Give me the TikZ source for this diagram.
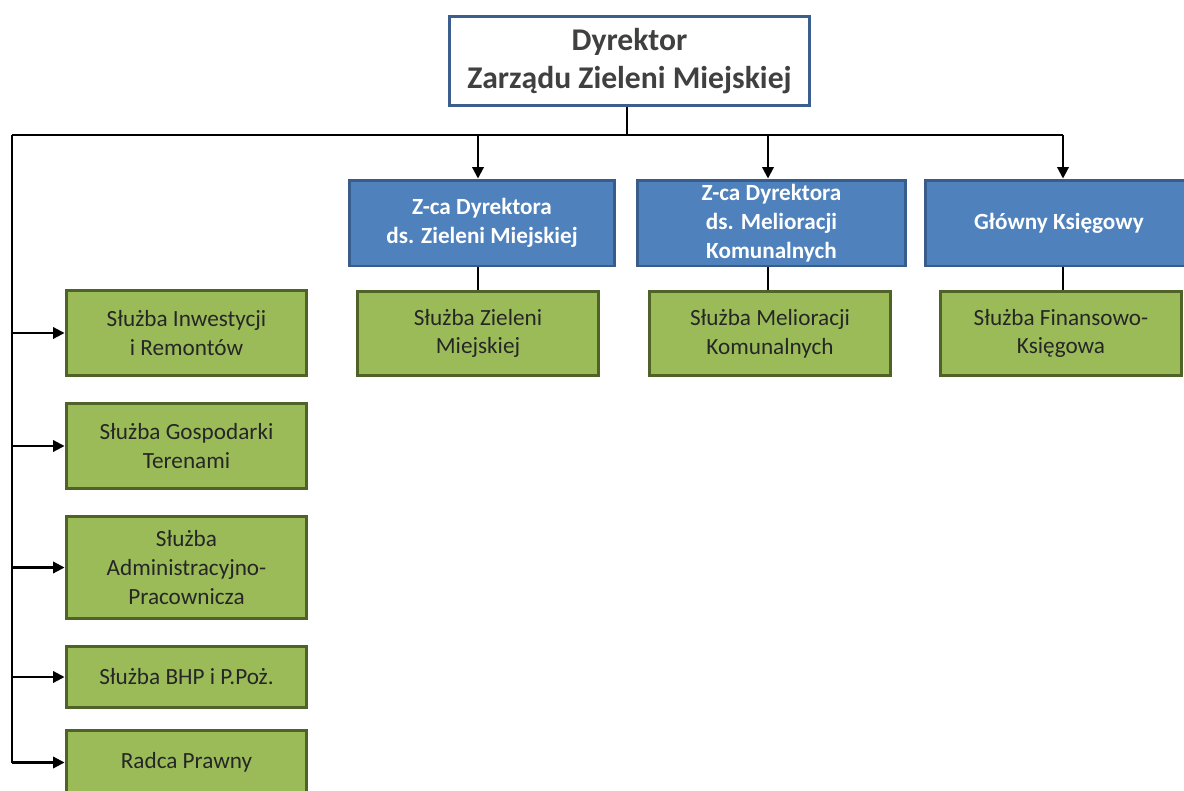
\documentclass[tikz,border=0pt]{standalone}
\usepackage{fontspec}
\setmainfont{Carlito}
\usetikzlibrary{arrows.meta}

\definecolor{headblue}{HTML}{3B5E8C}
\definecolor{zcafill}{HTML}{4F81BD}
\definecolor{zcaedge}{HTML}{385D8A}
\definecolor{slfill}{HTML}{9BBB59}
\definecolor{sledge}{HTML}{4F6228}
\definecolor{headtext}{HTML}{404040}

\tikzset{
  headbox/.style={draw=headblue, line width=1.7pt, fill=white, text=headtext,
    font=\bfseries\fontsize{18}{21.5}\selectfont, align=center,
    minimum width=7.2cm, minimum height=1.8cm, inner sep=0pt},
  zcabox/.style={draw=zcaedge, line width=1.7pt, fill=zcafill, text=white,
    font=\bfseries\fontsize{13.2}{16.4}\selectfont, align=center,
    minimum height=1.72cm, inner sep=0pt},
  slbox/.style={draw=sledge, line width=1.7pt, fill=slfill, text=black!85,
    font=\fontsize{13.2}{16.4}\selectfont, align=center,
    minimum width=4.82cm, inner sep=0pt},
  conn/.style={line width=1.2pt, black},
  arr/.style={conn, -{Triangle[length=6.5pt,width=6.5pt]}}
}

\begin{document}
\begin{tikzpicture}[x=0.02cm,y=-0.02cm]
\useasboundingbox (0,0) rectangle (1184,791);

% top
\node[headbox] (dyr) at (629.5,61) {Dyrektor\\Zarządu Zieleni Miejskiej};

% deputies
\node[zcabox, minimum width=5.32cm] (zca1) at (482,223) {Z-ca Dyrektora\\ds. Zieleni Miejskiej};
\node[zcabox, minimum width=5.38cm] (zca2) at (771.5,223) {Z-ca Dyrektora\\ds. Melioracji\\Komunalnych};
\node[zcabox, minimum width=5.36cm] (glk) at (1059,223) {Główny Księgowy};

% services under deputies
\node[slbox, minimum height=1.68cm] (szm) at (478,333.5) {Służba Zieleni\\Miejskiej};
\node[slbox, minimum height=1.68cm] (smk) at (770,333.5) {Służba Melioracji\\Komunalnych};
\node[slbox, minimum height=1.68cm] (sfk) at (1061,333.5) {Służba Finansowo-\\Księgowa};

% services on the left
\node[slbox, minimum height=1.7cm] (sir) at (186.5,333) {Służba Inwestycji\\i Remontów};
\node[slbox, minimum height=1.7cm] (sgt) at (186.5,446) {Służba Gospodarki\\Terenami};
\node[slbox, minimum height=2.04cm] (sap) at (186.5,567.5) {Służba\\Administracyjno-\\Pracownicza};
\node[slbox, minimum height=1.22cm] (bhp) at (186.5,677) {Służba BHP i P.Poż.};
\node[slbox, minimum height=1.3cm] (rp) at (186.5,762.5) {Radca Prawny};

% lines
\coordinate (hub) at (627,135);
\coordinate (lft) at (12,135);
\coordinate (mid) at (768,135);
\coordinate (rgt) at (1063,135);

\draw[conn] (dyr.south -| hub) -- (hub);
\draw[conn] (lft) -- (rgt);
\draw[arr] (szm.north |- hub) -- (szm.north |- zca1.north);
\draw[arr] (mid) -- (mid |- zca2.north);
\draw[arr] (rgt) -- (rgt |- glk.north);

\draw[conn] (szm.north |- zca1.south) -- (szm.north);
\draw[conn] (mid |- zca2.south) -- (mid |- smk.north);
\draw[conn] (rgt |- glk.south) -- (rgt |- sfk.north);

\draw[conn] (lft) -- (lft |- rp.west);
\foreach \s in {sir,sgt,sap,bhp,rp}
  \draw[arr] (lft |- \s.west) -- (\s.west);
\end{tikzpicture}
\end{document}
